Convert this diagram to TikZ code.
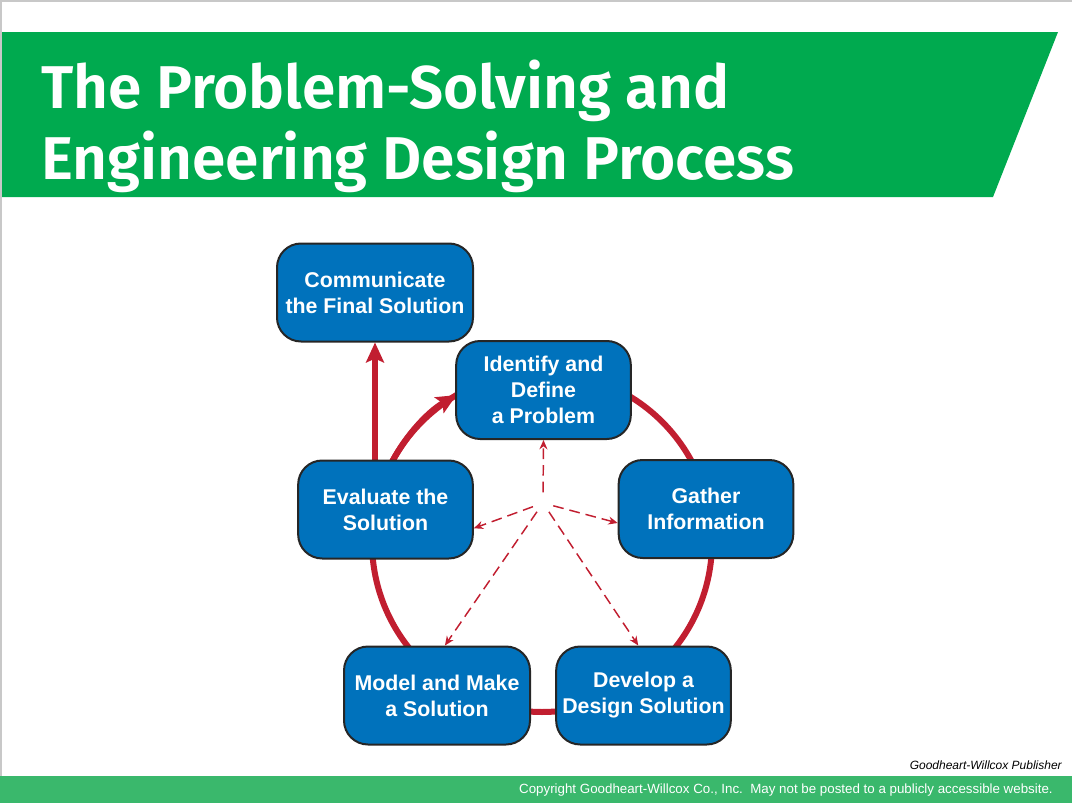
\documentclass[tikz,border=0pt]{standalone}
\usepackage{fontspec}
\setmainfont{Liberation Sans}
\newfontfamily\titlefont{Fira Sans}[BoldFont={Fira Sans SemiBold}]
\usetikzlibrary{arrows.meta}
\pgfdeclarelayer{background}
\pgfsetlayers{background,main}
\definecolor{bannergreen}{RGB}{0,170,79}
\definecolor{footgreen}{RGB}{58,184,108}
\definecolor{stageblue}{RGB}{0,114,188}
\definecolor{loopred}{RGB}{193,30,48}
\definecolor{slidegray}{RGB}{200,200,200}

\begin{document}
\begin{tikzpicture}[x=0.75pt, y=-0.75pt,
  stagebox/.style = {draw=black!85, line width=1.5pt, fill=stageblue, rounded corners=18pt,
    minimum width=131pt, minimum height=73.5pt, inner sep=0pt, align=center, text=white,
    font=\bfseries\fontsize{16}{19.5}\selectfont},
  loopline/.style = {draw=loopred, line width=4.5pt},
  looptip/.style = {-{Stealth[length=15pt, width=13.5pt, inset=3pt]}},
  hintarrow/.style = {draw=loopred, line width=1.1pt, dash pattern=on 8pt off 4.5pt,
    shorten <=8pt, -{Stealth[length=7pt, width=6pt]}},
  titleline/.style = {anchor=base west, inner sep=0pt, text=white,
    font=\titlefont\bfseries\fontsize{45.3}{50}\selectfont}
]
\useasboundingbox (0,0) rectangle (1072,803);

% slide frame and banner
\draw[slidegray, line width=1.5pt] (0,1) -- (1072,1);
\draw[slidegray, line width=1.5pt] (1,0) -- (1,803);
\fill[bannergreen] (2,32) -- (1058,32) -- (993,197) -- (2,197) -- cycle;
\node[titleline] (title1) at (41,108) {The Problem-Solving and};
\node[titleline] (title2) at (41,179) {Engineering Design Process};

% the six steps
\node[stagebox, minimum width=147pt] (comm) at (375,292.5) {Communicate\\the Final Solution};
\node[stagebox] (ident) at (543.5,390) {Identify and\\Define\\a Problem};
\node[stagebox] (gather) at (706,509) {Gather\\Information};
\node[stagebox] (develop) at (643.5,695.5) {Develop a\\Design Solution};
\node[stagebox, minimum width=139.5pt] (model) at (437,695.5) {Model and Make\\a Solution};
\node[stagebox] (eval) at (385.5,509.5) {Evaluate the\\Solution};

\coordinate (ringc) at (542,542);
\coordinate (hub) at (543,503);

\begin{pgfonlayer}{background}
% loop round the steps
\draw[loopline] (ringc) circle[radius=170];
\draw[loopline, looptip] (ringc) ++(205:170) arc[start angle=205, end angle=239.8, radius=170];
\draw[loopline, looptip] (eval.north -| comm.south) -- (comm.south);

% any step can lead back to any other
\draw[hintarrow] (hub) -- (ident.south);
\draw[hintarrow] (hub) -- (eval.-12);
\draw[hintarrow] (hub) -- (gather.189);
\draw[hintarrow] (hub) -- (model.81);
\draw[hintarrow] (hub) -- (develop.96);
\end{pgfonlayer}

% footer
\node[anchor=east, inner sep=0pt, font=\itshape\fontsize{9}{11}\selectfont] (credit) at (1062,765) {Goodheart-Willcox Publisher};
\fill[footgreen] (0,776) rectangle (1072,803);
\node[anchor=east, inner sep=0pt, text=white, font=\fontsize{10}{12}\selectfont] (copyline) at (1053,790)
  {Copyright Goodheart-Willcox Co., Inc.\ \ May not be posted to a publicly accessible website.};

\end{tikzpicture}
\end{document}
